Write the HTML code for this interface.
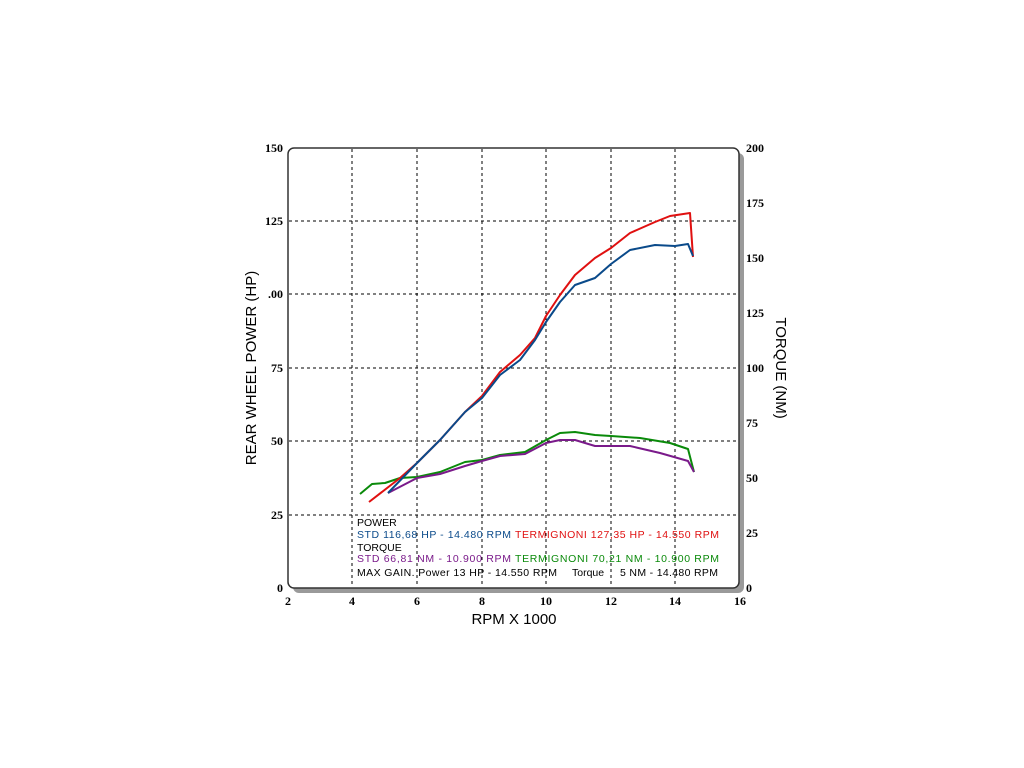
<!DOCTYPE html>
<html><head><style>body{margin:0;background:#fff}svg{display:block}</style></head><body>
<svg width="1024" height="768" xmlns="http://www.w3.org/2000/svg">
<rect width="1024" height="768" fill="#fff"/>
<rect x="293" y="153" width="451" height="440" rx="6" fill="#9a9a9a"/>
<rect x="288" y="148" width="451" height="440" rx="6" fill="#fff" stroke="#333" stroke-width="1.5"/>
<g stroke="#000" stroke-width="1" stroke-dasharray="3,3">
<line x1="352" y1="149" x2="352" y2="587"/><line x1="417" y1="149" x2="417" y2="587"/><line x1="482" y1="149" x2="482" y2="587"/><line x1="546" y1="149" x2="546" y2="587"/><line x1="611" y1="149" x2="611" y2="587"/><line x1="675" y1="149" x2="675" y2="587"/>
<line x1="289" y1="221" x2="738" y2="221"/><line x1="289" y1="294" x2="738" y2="294"/><line x1="289" y1="368" x2="738" y2="368"/><line x1="289" y1="441" x2="738" y2="441"/><line x1="289" y1="515" x2="738" y2="515"/>
</g>
<g font-family="Liberation Serif,serif" font-weight="bold" font-size="12" fill="#000">
<text x="283" y="152" text-anchor="end">150</text><text x="283" y="225" text-anchor="end">125</text><text x="283" y="298" text-anchor="end">.00</text><text x="283" y="372" text-anchor="end">75</text><text x="283" y="445" text-anchor="end">50</text><text x="283" y="519" text-anchor="end">25</text><text x="283" y="592" text-anchor="end">0</text>
<text x="746" y="152">200</text><text x="746" y="207">175</text><text x="746" y="262">150</text><text x="746" y="317">125</text><text x="746" y="372">100</text><text x="746" y="427">75</text><text x="746" y="482">50</text><text x="746" y="537">25</text><text x="746" y="592">0</text>
<text x="288" y="605" text-anchor="middle">2</text><text x="352" y="605" text-anchor="middle">4</text><text x="417" y="605" text-anchor="middle">6</text><text x="482" y="605" text-anchor="middle">8</text><text x="546" y="605" text-anchor="middle">10</text><text x="611" y="605" text-anchor="middle">12</text><text x="675" y="605" text-anchor="middle">14</text><text x="740" y="605" text-anchor="middle">16</text>
</g>
<g font-family="Liberation Sans,sans-serif" font-size="15" fill="#000">
<text x="514" y="624" text-anchor="middle">RPM X 1000</text>
<text transform="translate(256,368) rotate(-90)" text-anchor="middle">REAR WHEEL POWER (HP)</text>
<text transform="translate(776,368) rotate(90)" text-anchor="middle">TORQUE (NM)</text>
</g>
<g fill="none" stroke-width="2" stroke-linejoin="round">
<polyline stroke="#0a8a0a" points="360,494 372,484 385,483 400,478 417,477 440,472 465,462 482,460 500,455 525,452 546,440 560,433 575,432 595,435 611,436 640,438 670,443 688,449 694,472"/>
<polyline stroke="#7a1a8a" points="388,493 417,478 440,474 465,466 482,461 500,456 525,454 546,443 560,440 575,440 595,446 611,446 630,446 660,453 688,461 694,472"/>
<polyline stroke="#e01010" points="369,502 400,478 417,463 440,440 465,412 482,396 500,372 520,355 535,338 546,316 560,295 575,275 595,258 611,248 630,233 655,222 670,216 690,213 693,257"/>
<polyline stroke="#0a4a8a" points="388,493 417,463 440,440 465,412 482,398 500,375 520,360 535,340 546,322 560,302 575,285 595,278 611,264 630,250 655,245 675,246 688,244 693,256"/>
</g>
<g font-family="Liberation Sans,sans-serif" font-size="10.5">
<text x="357" y="526" fill="#000">POWER</text>
<text x="357" y="538" fill="#0a4a8a" textLength="154">STD 116,68 HP - 14.480 RPM</text>
<text x="515" y="538" fill="#e01010" textLength="204">TERMIGNONI 127,35 HP - 14.550 RPM</text>
<text x="357" y="551" fill="#000">TORQUE</text>
<text x="357" y="562" fill="#7a1a8a" textLength="154">STD  66,81 NM - 10.900 RPM</text>
<text x="515" y="562" fill="#0a8a0a" textLength="204">TERMIGNONI  70,21 NM - 10.900 RPM</text>
<text x="357" y="576" fill="#000" textLength="200">MAX GAIN. Power 13 HP - 14.550 RPM</text>
<text x="572" y="576" fill="#000">Torque</text>
<text x="620" y="576" fill="#000" textLength="98">5 NM - 14.480 RPM</text>
</g>
</svg>
</body></html>
